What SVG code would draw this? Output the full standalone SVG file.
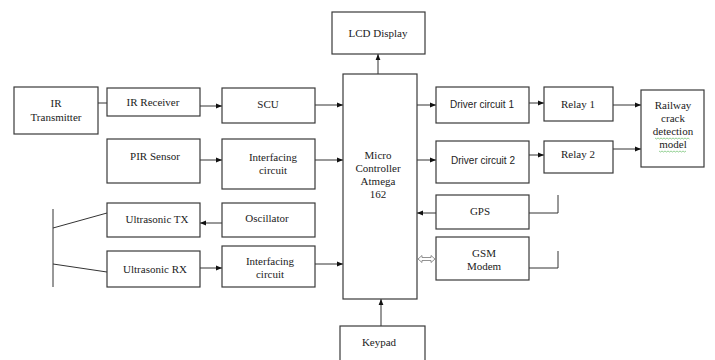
<svg xmlns="http://www.w3.org/2000/svg" width="715" height="360" viewBox="0 0 715 360">
<defs>
<marker id="ah" viewBox="0 0 10 10" refX="10" refY="5" markerWidth="6" markerHeight="6" markerUnits="userSpaceOnUse" orient="auto">
<path d="M0,1 L10,5 L0,9 Z" fill="#111"/>
</marker>
</defs>
<style>
.box{fill:#fff;stroke:#3a3a3a;stroke-width:1.2}
.t{font-family:"Liberation Serif","DejaVu Serif",serif;font-size:11px;fill:#222;text-anchor:middle}
.s{font-family:"Liberation Sans","DejaVu Sans",sans-serif;font-size:10px;fill:#222;text-anchor:middle}
.c{stroke:#333;stroke-width:1;fill:none}
.a{stroke:#333;stroke-width:1;fill:none;marker-end:url(#ah)}
</style>
<rect width="715" height="360" fill="#fff"/>
<g id="connectors">
<line class="c" x1="98" y1="103" x2="107" y2="103"/>
<line class="a" x1="200" y1="106" x2="222" y2="106"/>
<line class="a" x1="315" y1="105" x2="343" y2="105"/>
<line class="a" x1="200" y1="160" x2="222" y2="160"/>
<line class="a" x1="315" y1="160" x2="343" y2="160"/>
<line class="a" x1="222" y1="223" x2="200" y2="223"/>
<line class="a" x1="200" y1="268" x2="222" y2="268"/>
<line class="a" x1="315" y1="264" x2="343" y2="264"/>
<line class="c" x1="53" y1="209" x2="53" y2="287"/>
<line class="c" x1="53" y1="228" x2="107" y2="213"/>
<line class="c" x1="53" y1="264" x2="107" y2="272"/>
<line class="a" x1="378" y1="74" x2="378" y2="54"/>
<line class="a" x1="381" y1="326" x2="381" y2="299"/>
<line class="a" x1="417" y1="105" x2="436" y2="105"/>
<line class="a" x1="529" y1="103" x2="544" y2="103"/>
<line class="a" x1="613" y1="105" x2="641" y2="105"/>
<line class="a" x1="417" y1="160" x2="436" y2="160"/>
<line class="a" x1="529" y1="155" x2="544" y2="155"/>
<line class="a" x1="613" y1="149" x2="641" y2="149"/>
<line class="a" x1="436" y1="213" x2="417" y2="213"/>
<polyline class="c" points="529,213 558,213 558,195"/>
<polyline class="c" points="529,268 558,268 558,251"/>
<path d="M418,259 L422,255.5 L422,257.5 L431,257.5 L431,255.5 L435,259 L431,262.5 L431,260.5 L422,260.5 L422,262.5 Z" fill="#fff" stroke="#777" stroke-width="0.8"/>
</g>
<g id="ir-transmitter"><rect class="box" x="14" y="87" width="84" height="47"/><text class="t" x="56" y="107">IR</text><text class="t" x="56" y="121">Transmitter</text></g>
<g id="ir-receiver"><rect class="box" x="107" y="88" width="93" height="28"/><text class="t" x="153" y="106">IR Receiver</text></g>
<g id="scu"><rect class="box" x="222" y="88" width="93" height="35"/><text class="t" x="268" y="108">SCU</text></g>
<g id="pir-sensor"><rect class="box" x="107" y="139" width="93" height="44"/><text class="t" x="155" y="160">PIR Sensor</text></g>
<g id="interfacing-1"><rect class="box" x="222" y="139" width="93" height="50"/><text class="t" x="273" y="161">Interfacing</text><text class="t" x="273" y="174">circuit</text></g>
<g id="ultrasonic-tx"><rect class="box" x="107" y="203" width="93" height="34"/><text class="t" x="157" y="223">Ultrasonic TX</text></g>
<g id="oscillator"><rect class="box" x="222" y="203" width="93" height="34"/><text class="t" x="267" y="222">Oscillator</text></g>
<g id="ultrasonic-rx"><rect class="box" x="107" y="251" width="93" height="36"/><text class="t" x="155" y="273">Ultrasonic RX</text></g>
<g id="interfacing-2"><rect class="box" x="222" y="246" width="93" height="41"/><text class="t" x="270" y="265">Interfacing</text><text class="t" x="270" y="278">circuit</text></g>
<g id="lcd-display"><rect class="box" x="332" y="12" width="93" height="42"/><text class="t" x="378" y="37">LCD Display</text></g>
<g id="microcontroller"><rect class="box" x="343" y="74" width="74" height="225"/><text class="t" x="378" y="159">Micro</text><text class="t" x="378" y="172">Controller</text><text class="t" x="378" y="185">Atmega</text><text class="t" x="378" y="198">162</text></g>
<g id="keypad"><rect class="box" x="340" y="326" width="85" height="40"/><text class="t" x="379" y="346">Keypad</text></g>
<g id="driver-1"><rect class="box" x="436" y="87" width="93" height="36"/><text class="s" x="482" y="108">Driver circuit 1</text></g>
<g id="driver-2"><rect class="box" x="436" y="141" width="93" height="42"/><text class="s" x="483" y="164">Driver circuit 2</text></g>
<g id="relay-1"><rect class="box" x="544" y="87" width="69" height="34"/><text class="t" x="578" y="108">Relay 1</text></g>
<g id="relay-2"><rect class="box" x="544" y="141" width="69" height="32"/><text class="t" x="578" y="158">Relay 2</text></g>
<g id="railway"><rect class="box" x="641" y="90" width="63" height="77"/><text class="t" x="673" y="109">Railway</text><text class="t" x="673" y="122">crack</text><text class="t" x="673" y="135">detection</text><text class="t" x="673" y="148">model</text>
<path d="M655,138 l1.5,1 l1.5,-1 l1.5,1 l1.5,-1 l1.5,1 l1.5,-1 l1.5,1 l1.5,-1 l1.5,1 l1.5,-1 l1.5,1 l1.5,-1 l1.5,1 l1.5,-1 l1.5,1 l1.5,-1 l1.5,1 l1.5,-1 l1.5,1 l1.5,-1 l1.5,1 l1.5,-1 l1.5,1" fill="none" stroke="#6b6" stroke-width="0.7"/>
<path d="M659,151 l1.5,1 l1.5,-1 l1.5,1 l1.5,-1 l1.5,1 l1.5,-1 l1.5,1 l1.5,-1 l1.5,1 l1.5,-1 l1.5,1 l1.5,-1 l1.5,1 l1.5,-1 l1.5,1 l1.5,-1 l1.5,1 l1.5,-1" fill="none" stroke="#6b6" stroke-width="0.7"/></g>
<g id="gps"><rect class="box" x="436" y="195" width="93" height="34"/><text class="t" x="480" y="215">GPS</text></g>
<g id="gsm-modem"><rect class="box" x="436" y="237" width="93" height="43"/><text class="t" x="484" y="257">GSM</text><text class="t" x="484" y="270">Modem</text></g>
</svg>
